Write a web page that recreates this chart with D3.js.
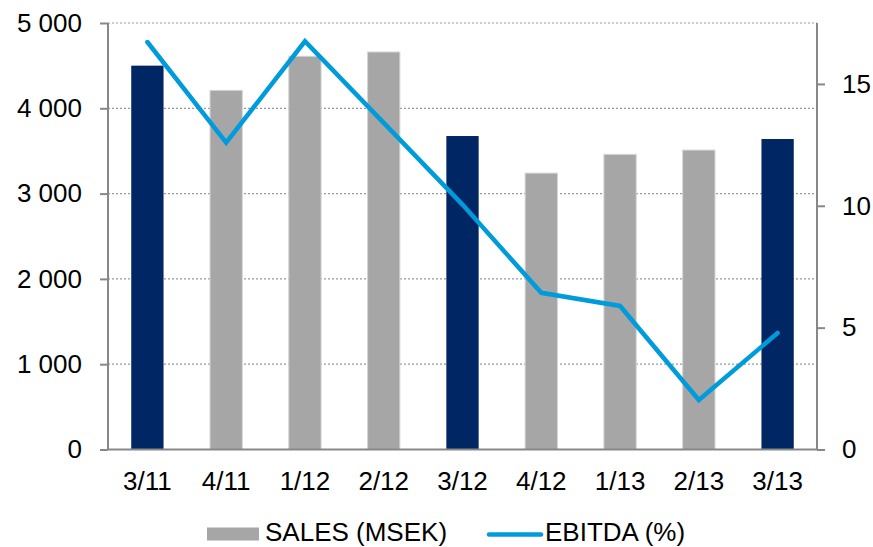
<!DOCTYPE html>
<html><head><meta charset="utf-8">
<script src="https://cdn.jsdelivr.net/npm/d3@7"></script>
<style>body{margin:0;background:#fff}svg{display:block}text{font-family:"Liberation Sans",Arial,sans-serif;fill:#000}</style>
</head><body><svg width="873" height="547"></svg>
<script>
const categories = ["3/11","4/11","1/12","2/12","3/12","4/12","1/13","2/13","3/13"];
const sales = [4500,4210,4610,4660,3675,3240,3460,3510,3640];
const ebitda = [16.72,12.59,16.75,13.4,10.05,6.43,5.89,2.03,4.78];
const highlight = ["3/11","3/12","3/13"];
const leftTicks = [0,1000,2000,3000,4000,5000];
const rightTicks = [0,5,10,15];
const legendLabels = ["SALES (MSEK)","EBITDA (%)"];

const FS = 26;
const svg = d3.select("svg");
const L=108, R=817, T=23, B=449.5;
const x = d3.scaleBand().domain(categories).range([L,R]).paddingInner(0.59).paddingOuter(0.295);
const y = d3.scaleLinear().domain([0,5000]).range([B,T]);
const y2 = d3.scaleLinear().domain([0,17.5]).range([B,T]);
const fmt = d => d3.format(",")(d).replace(/,/g," ");

// gridlines
svg.append("g").selectAll("line").data(leftTicks.filter(d=>d>0)).join("line")
  .attr("x1",L).attr("x2",R).attr("y1",d=>y(d)).attr("y2",d=>y(d))
  .attr("stroke","#999").attr("stroke-width",1.2).attr("stroke-dasharray","2,2");

// bars
svg.append("g").selectAll("rect").data(categories).join("rect")
  .attr("x",d=>x(d)).attr("width",x.bandwidth())
  .attr("y",(d,i)=>y(sales[i])).attr("height",(d,i)=>B-y(sales[i]))
  .attr("fill",d=>highlight.includes(d)?"#002664":"#a6a6a6")
  .attr("stroke",d=>highlight.includes(d)?"none":"#d4d4d4").attr("stroke-width",1);

// axes
const axL = svg.append("g").attr("transform",`translate(${L},0)`)
  .call(d3.axisLeft(y).tickValues(leftTicks).tickFormat(fmt).tickSize(8).tickPadding(18));
const axR = svg.append("g").attr("transform",`translate(${R},0)`)
  .call(d3.axisRight(y2).tickValues(rightTicks).tickSize(8).tickPadding(17));
const axB = svg.append("g").attr("transform",`translate(0,${B})`)
  .call(d3.axisBottom(x).tickSize(0).tickPadding(22));
[axL,axR,axB].forEach(a=>{
  a.attr("font-size",FS).attr("font-family","Liberation Sans, Arial, sans-serif");
  a.selectAll("path.domain").attr("stroke","#888").attr("stroke-width",2);
  a.selectAll(".tick line").attr("stroke","#888").attr("stroke-width",2);
  a.selectAll("text").attr("fill","#000");
});
axL.select("path.domain").attr("d",`M0,${B}V${T}`);
axR.select("path.domain").attr("d",`M0,${B}V${T}`);
axB.select("path.domain").attr("d",`M${L},0H${R}`);

// line
svg.append("path").datum(ebitda)
  .attr("d",d3.line().x((d,i)=>x(categories[i])+x.bandwidth()/2).y(d=>y2(d)))
  .attr("fill","none").attr("stroke","#009bdb").attr("stroke-width",4.5)
  .attr("stroke-linejoin","miter").attr("stroke-linecap","round");

// legend
const lg = svg.append("g").attr("font-size",FS);
lg.append("rect").attr("x",207).attr("y",527.5).attr("width",52).attr("height",13).attr("fill","#a6a6a6");
lg.append("text").attr("x",265).attr("y",540.5).text(legendLabels[0]);
lg.append("line").attr("x1",489).attr("x2",541).attr("y1",534.5).attr("y2",534.5)
  .attr("stroke","#009bdb").attr("stroke-width",4.5).attr("stroke-linecap","round");
lg.append("text").attr("x",545).attr("y",540.5).text(legendLabels[1]);
</script></body></html>
